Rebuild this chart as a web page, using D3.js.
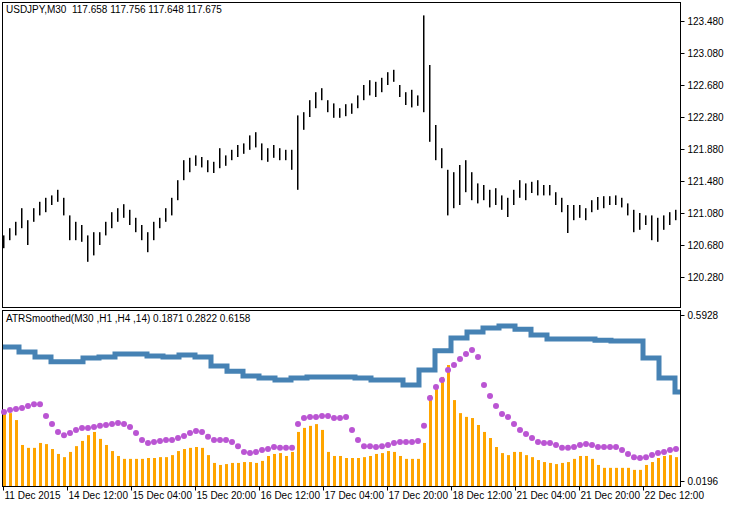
<!DOCTYPE html>
<html><head><meta charset="utf-8">
<script src="https://cdn.jsdelivr.net/npm/d3@7"></script>
<style>
body{margin:0;background:#fff}
text{font-family:"Liberation Sans",Arial,sans-serif;font-size:10px;fill:#000;white-space:pre}
</style></head><body>
<svg id="c" width="732" height="506"></svg>
<script>
// price samples, every 3rd M30 bar
var hi = [120.80,120.89,120.97,121.14,120.99,121.14,121.22,121.27,121.30,121.37,121.27,121.05,120.97,120.93,120.80,120.84,120.84,120.97,121.09,121.14,
  121.19,121.12,121.02,120.93,120.84,120.97,121.02,121.14,121.27,121.49,121.74,121.77,121.80,121.78,121.74,121.72,121.89,121.80,121.87,121.93,
  121.95,122.05,122.09,121.95,121.89,121.93,121.89,121.87,121.87,122.30,122.34,122.49,122.59,122.64,122.49,122.45,122.39,122.44,122.45,122.55,
  122.68,122.74,122.72,122.77,122.84,122.87,122.68,122.59,122.62,122.55,123.55,122.93,122.18,121.89,121.62,121.59,121.68,121.74,121.59,121.45,
  121.43,121.37,121.39,121.30,121.27,121.37,121.49,121.45,121.47,121.49,121.43,121.43,121.34,121.27,121.18,121.18,121.18,121.14,121.24,121.28,
  121.29,121.29,121.30,121.27,121.20,121.12,121.08,121.05,121.05,121.02,121.05,121.09,121.12];
var lo = [120.64,120.74,120.80,120.89,120.68,120.97,121.05,121.09,121.18,121.22,121.05,120.74,120.74,120.72,120.47,120.55,120.68,120.80,120.89,120.97,
  121.02,120.93,120.84,120.74,120.59,120.74,120.89,120.97,121.05,121.24,121.49,121.59,121.67,121.65,121.59,121.58,121.64,121.67,121.74,121.78,
  121.82,121.87,121.90,121.74,121.72,121.77,121.74,121.74,121.62,121.37,122.12,122.28,122.39,122.49,122.34,122.27,122.27,122.29,122.32,122.39,
  122.49,122.55,122.53,122.59,122.68,122.72,122.53,122.43,122.40,122.42,122.34,121.97,121.74,121.64,121.05,121.14,121.18,121.34,121.24,121.20,
  121.24,121.15,121.18,121.12,121.03,121.18,121.27,121.24,121.33,121.30,121.30,121.30,121.18,121.09,120.83,120.99,121.02,120.99,121.09,121.12,
  121.14,121.18,121.18,121.15,121.05,120.84,120.87,120.93,120.74,120.72,120.87,120.93,120.99];
// ATR M30 histogram
var atrM30 = [.254,.254,.230,.144,.134,.134,.151,.147,.130,.113,.102,.120,.140,.158,.178,.189,.165,.144,.123,.106,
  .096,.096,.096,.096,.099,.099,.102,.102,.109,.123,.130,.134,.137,.134,.109,.082,.075,.078,.082,.082,
  .085,.085,.082,.089,.106,.113,.116,.106,.120,.189,.203,.210,.216,.196,.120,.106,.106,.099,.099,.099,
  .102,.106,.113,.116,.123,.120,.106,.096,.096,.096,.151,.316,.344,.379,.420,.299,.254,.241,.237,.213,
  .189,.168,.137,.116,.109,.120,.120,.109,.102,.092,.085,.082,.078,.082,.085,.096,.106,.106,.096,.075,
  .065,.065,.065,.065,.065,.058,.058,.075,.085,.099,.106,.109,.102];
// ATR H1 dots
var atrH1 = [.258,.265,.268,.272,.279,.285,.285,.244,.216,.189,.178,.185,.196,.203,.203,.206,.210,.213,.216,.220,
  .216,.206,.185,.161,.151,.154,.158,.161,.161,.168,.175,.185,.192,.189,.172,.161,.161,.161,.154,.140,
  .120,.116,.120,.127,.130,.137,.134,.134,.134,.216,.237,.241,.241,.244,.244,.237,.237,.241,.196,.161,
  .140,.140,.137,.140,.144,.151,.154,.154,.154,.158,.210,.306,.344,.368,.403,.420,.441,.458,.472,.448,
  .351,.313,.279,.251,.241,.216,.196,.182,.168,.154,.151,.151,.144,.134,.134,.137,.144,.147,.144,.137,
  .137,.137,.137,.127,.113,.102,.099,.102,.109,.116,.120,.127,.130];
// ATR H4 steps, one per 8 bars
var atrH4 = [.482,.465,.448,.431,.431,.444,.448,.458,.458,.451,.448,.455,.448,.417,.399,.382,.375,.368,.375,.379,
  .379,.379,.375,.368,.368,.351,.403,.469,.513,.534,.548,.555,.544,.524,.510,.510,.510,.506,.503,.503,
  .444,.375,.327];
var priceTicks = [120.28,120.68,121.08,121.48,121.88,122.28,122.68,123.08,123.48];
var atrTicks = [0.0196,0.5928];
var dateBars = [0,32,64,96,128,160,192,224,256,288,320];
var dateLabels = ["11 Dec 2015","14 Dec 12:00","15 Dec 04:00","15 Dec 20:00","16 Dec 12:00","17 Dec 04:00",
  "17 Dec 20:00","18 Dec 12:00","21 Dec 04:00","21 Dec 20:00","22 Dec 12:00"];

var svg = d3.select("#c");
var xBar = d3.scaleLinear().domain([0, 339]).range([3, 681]);
var xs = function (i) { return Math.round(xBar(3 * i + 0.5)); };
var yP = d3.scaleLinear().domain([120.28, 123.48]).range([277, 21]);
var yA = d3.scaleLinear().domain([0.0196, 0.5928]).range([481, 315]);

// frames
svg.append("rect").attr("x", 2.5).attr("y", 2.5).attr("width", 678).attr("height", 305)
    .attr("fill", "none").attr("stroke", "#000");
svg.append("rect").attr("x", 2.5).attr("y", 310.5).attr("width", 678).attr("height", 176)
    .attr("fill", "none").attr("stroke", "#000");

// price bars
svg.append("g").selectAll("rect").data(hi).join("rect")
    .attr("x", function (d, i) { return xs(i) - 1; })
    .attr("width", 1.5)
    .attr("y", function (d) { return yP(d); })
    .attr("height", function (d, i) { return yP(lo[i]) - yP(d); })
    .attr("fill", "#000");

// histogram
svg.append("g").selectAll("rect").data(atrM30).join("rect")
    .attr("x", function (d, i) { return xs(i) - 1; })
    .attr("width", 3)
    .attr("y", function (d) { return yA(d); })
    .attr("height", function (d) { return 486 - yA(d); })
    .attr("fill", "#FFA500");

// H4 step line
var stepPts = [];
atrH4.forEach(function (v, k) {
    stepPts.push([xBar(8 * k), yA(v)]);
    stepPts.push([Math.min(xBar(8 * k + 8), 680), yA(v)]);
});
svg.append("path").attr("d", d3.line()(stepPts))
    .attr("fill", "none").attr("stroke", "#4682B4").attr("stroke-width", 5);

// H1 dots
svg.append("g").selectAll("circle").data(atrH1).join("circle")
    .attr("cx", function (d, i) { return xs(i); })
    .attr("cy", function (d) { return yA(d); })
    .attr("r", 3).attr("fill", "#BA55D3");

// axes
var pAxis = d3.axisRight(yP).tickValues(priceTicks).tickSize(4).tickFormat(d3.format(".3f"));
svg.append("g").attr("transform", "translate(680.5,0)").call(pAxis);
var aAxis = d3.axisRight(yA).tickValues(atrTicks).tickSize(4).tickFormat(d3.format(".4f"));
svg.append("g").attr("transform", "translate(680.5,0)").call(aAxis);
var xAxis = d3.axisBottom(xBar).tickValues(dateBars).tickSize(4)
    .tickFormat(function (d, i) { return dateLabels[i]; });
var gx = svg.append("g").attr("transform", "translate(0,486.5)").call(xAxis);
svg.selectAll(".domain").remove();
svg.selectAll(".tick line").attr("stroke", "#000");
svg.selectAll(".tick text").style("font-size", "10px").style("font-family", "Liberation Sans, Arial, sans-serif");
gx.selectAll(".tick text").attr("text-anchor", "start").attr("dx", 1).attr("y", 5);

svg.append("text").attr("x", 6).attr("y", 13).text("USDJPY,M30  117.658 117.756 117.648 117.675");
svg.append("text").attr("x", 6).attr("y", 322).text("ATRSmoothed(M30 ,H1 ,H4 ,14) 0.1871 0.2822 0.6158");
</script>
</body></html>
